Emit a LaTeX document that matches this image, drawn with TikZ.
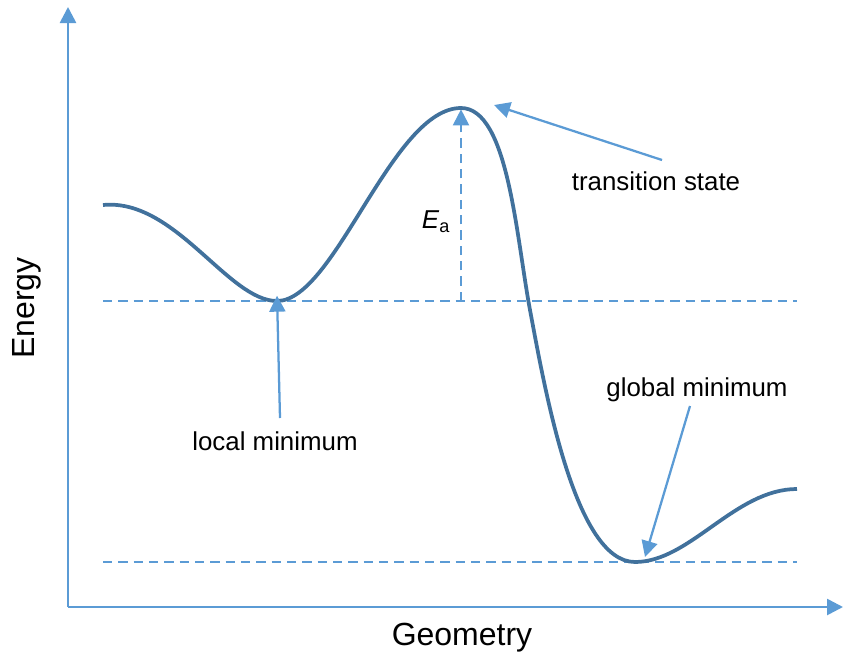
\documentclass[tikz,border=0pt]{standalone}
\usepackage{fontspec}
\setmainfont{Liberation Sans}
\usetikzlibrary{arrows.meta, positioning, calc}
\definecolor{axisc}{HTML}{5B9BD5}
\definecolor{curvec}{HTML}{41719C}

\begin{document}
\begin{tikzpicture}[
  x=0.75pt, y=-0.75pt,
  axis/.style={-{Triangle[length=12pt, width=12pt]}, line width=2pt, axisc},
  level/.style={dashed, dash pattern=on 7pt off 4.5pt, line width=1.5pt, axisc},
  pointer/.style={-{Triangle[length=12pt, width=12pt]}, line width=1.7pt, axisc},
  energy/.style={line width=2.8pt, curvec},
  lbl/.style={font=\fontsize{19.4}{22}\selectfont, inner sep=0pt},
  axlbl/.style={font=\fontsize{24}{28}\selectfont, inner sep=0pt}
]
\useasboundingbox (0,0) rectangle (843,657);

% axes
\coordinate (origin) at (68,607);
\coordinate (ytop) at (68,7);
\coordinate (xend) at (843,607);
\draw[axis] (origin) -- (ytop);
\draw[axis] (origin) -- (xend);
\node[axlbl, rotate=90] (ylab) at (27,308) {Energy};
\node[axlbl] (xlab) at (462,638) {Geometry};

% key points of the curve
\coordinate (start) at (103,205);
\coordinate (locmin) at (277,301);
\coordinate (ts) at (461,108);
\coordinate (mid) at (530,310);
\coordinate (globmin) at (635,562);
\coordinate (stop) at (797,489);

% reference levels
\draw[level] (103,301) -- (797,301);
\draw[level] (103,562) -- (797,562);
\coordinate (eabase) at (461,301);
\draw[level, -{Triangle[length=12pt, width=12pt]}] (eabase) -- ([yshift=-1pt]ts);

% energy profile
\draw[energy] (start) .. controls (175,198) and (228,301) .. (locmin)
  .. controls (335,301) and (392,108) .. (ts)
  .. controls (508,108) and (516,235) .. (mid)
  .. controls (545,390) and (575,562) .. (globmin)
  .. controls (690,562) and (735,489) .. (stop);

% labels
\node[lbl] (ea) at (436,222) {\textit{E}\textsubscript{a}};
\node[lbl] (loclab) at (275,441) {local minimum};
\node[lbl] (globlab) at (697,390) {global minimum};
\node[lbl] (tslab) at (656,181) {transition state};

\draw[pointer] (280,418) -- ([yshift=4pt]locmin);
\draw[pointer] (690,406) -- (645,557);
\draw[pointer] (662,160) -- (494,105);
\end{tikzpicture}
\end{document}
